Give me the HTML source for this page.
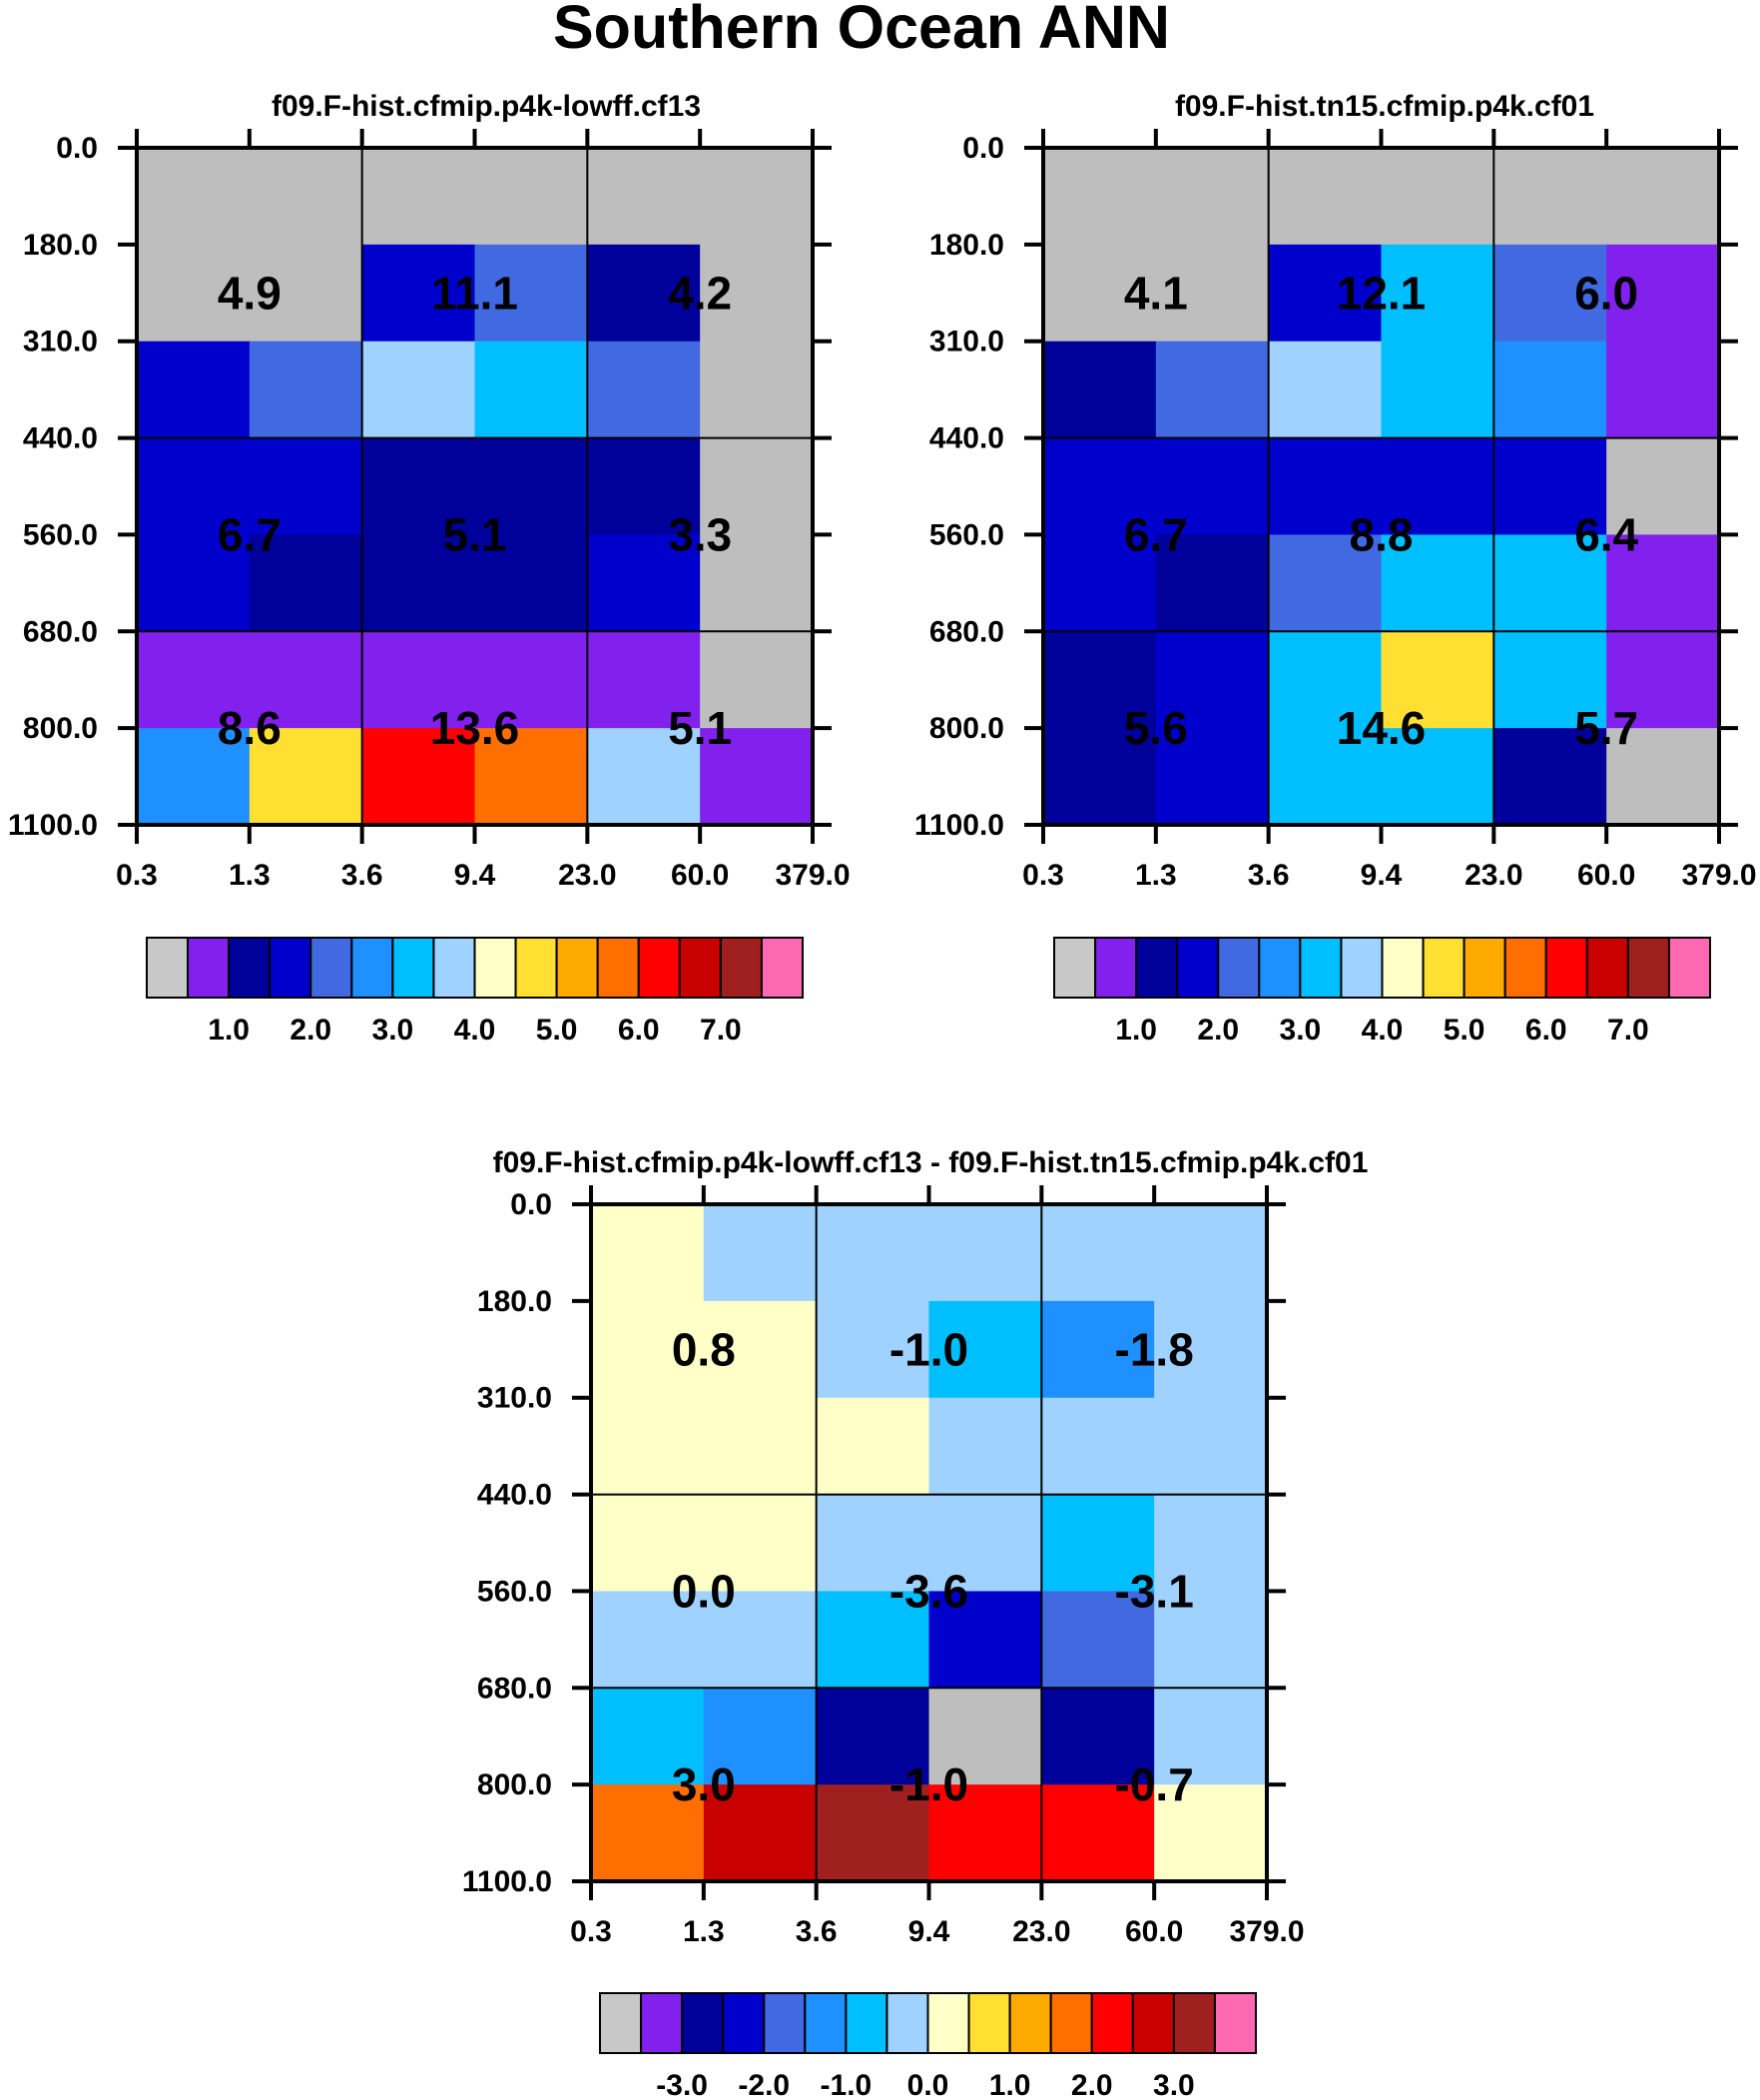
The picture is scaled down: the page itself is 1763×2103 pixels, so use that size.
<!DOCTYPE html>
<html><head><meta charset="utf-8"><style>
html,body{margin:0;padding:0;background:#fff}
svg{display:block}
text{font-family:"Liberation Sans",sans-serif;font-weight:bold;fill:#000}
</style></head><body>
<svg id="fig" width="1763" height="2103" viewBox="0 0 1763 2103" xmlns="http://www.w3.org/2000/svg">
<text x="863" y="48" text-anchor="middle" font-size="61">Southern Ocean ANN</text>
</svg>
<script>
const palette = ["#bebebe","#8220ee","#00009a","#0000cd","#4169e1","#1e90ff","#00bfff","#a0d2ff","#ffffc8","#ffe032","#ffaa00","#ff6e00","#ff0000","#c80000","#a02020","#ff69b4"];
const legendPalette = ["#c8c8c8","#8220ee","#00009a","#0000cd","#4169e1","#1e90ff","#00bfff","#a0d2ff","#ffffc8","#ffe032","#ffaa00","#ff6e00","#ff0000","#c80000","#a02020","#ff69b4"];
const yTicks = ["0.0","180.0","310.0","440.0","560.0","680.0","800.0","1100.0"];
const xTicks = ["0.3","1.3","3.6","9.4","23.0","60.0","379.0"];
const cells1 = [
 [0,0,0,0,0,0],
 [0,0,3,4,2,0],
 [3,4,7,6,4,0],
 [3,3,2,2,2,0],
 [3,2,2,2,3,0],
 [1,1,1,1,1,0],
 [5,9,12,11,7,1]];
const cells2 = [
 [0,0,0,0,0,0],
 [0,0,3,6,4,1],
 [2,4,7,6,5,1],
 [3,3,3,3,3,0],
 [3,2,4,6,6,1],
 [2,3,6,9,6,1],
 [2,3,6,6,2,0]];
const cells3 = [
 [8,7,7,7,7,7],
 [8,8,7,6,5,7],
 [8,8,8,7,7,7],
 [8,8,7,7,6,7],
 [7,7,6,3,4,7],
 [6,5,2,0,2,7],
 [11,13,14,12,12,8]];
const values1 = [["4.9","11.1","4.2"],["6.7","5.1","3.3"],["8.6","13.6","5.1"]];
const values2 = [["4.1","12.1","6.0"],["6.7","8.8","6.4"],["5.6","14.6","5.7"]];
const values3 = [["0.8","-1.0","-1.8"],["0.0","-3.6","-3.1"],["3.0","-1.0","-0.7"]];
const legendLabels1 = ["1.0","2.0","3.0","4.0","5.0","6.0","7.0"];
const legendLabels3 = ["-3.0","-2.0","-1.0","0.0","1.0","2.0","3.0"];
const blockRows = [[0,3],[3,5],[5,7]];

const NS="http://www.w3.org/2000/svg";
const svg=document.getElementById('fig');
function mk(tag,attrs,parent){const e=document.createElementNS(NS,tag);for(const k in attrs)e.setAttribute(k,attrs[k]);(parent||svg).appendChild(e);return e;}

function panel(name,x0,y0,title,titleX,cells,values,lbx,lby,labels){
  const W=677,H=678;
  const g=mk('g',{});
  
  
  const nr=cells.length,nc=cells[0].length;
  const xs=c=>x0+W*c/nc, ys=r=>y0+H*r/nr;
  const t=mk('text',{x:titleX,y:y0-32,'text-anchor':'middle','font-size':30},g);
  t.textContent=title;
  
  
  for(let r=0;r<nr;r++)for(let c=0;c<nc;c++){
    const rc=mk('rect',{x:xs(c),y:ys(r),width:xs(c+1)-xs(c)+0.5,height:ys(r+1)-ys(r)+0.5,fill:palette[cells[r][c]]},g);
    
    
  }
  [2,4].forEach(c=>mk('line',{x1:xs(c),x2:xs(c),y1:y0,y2:y0+H,stroke:'#000','stroke-width':2},g));
  [3,5].forEach(r=>mk('line',{x1:x0,x2:x0+W,y1:ys(r),y2:ys(r),stroke:'#000','stroke-width':2},g));
  mk('rect',{x:x0,y:y0,width:W,height:H,fill:'none',stroke:'#000','stroke-width':4},g);
  for(let r=0;r<=nr;r++){
    mk('line',{x1:x0-19,x2:x0,y1:ys(r),y2:ys(r),stroke:'#000','stroke-width':4},g);
    mk('line',{x1:x0+W,x2:x0+W+19,y1:ys(r),y2:ys(r),stroke:'#000','stroke-width':4},g);
    const l=mk('text',{x:x0-39,y:ys(r)+10,'text-anchor':'end','font-size':30},g);
    l.textContent=yTicks[r];
    
    
  }
  for(let c=0;c<=nc;c++){
    mk('line',{x1:xs(c),x2:xs(c),y1:y0-19,y2:y0,stroke:'#000','stroke-width':4},g);
    mk('line',{x1:xs(c),x2:xs(c),y1:y0+H,y2:y0+H+19,stroke:'#000','stroke-width':4},g);
    const l=mk('text',{x:xs(c),y:y0+H+60,'text-anchor':'middle','font-size':30},g);
    l.textContent=xTicks[c];
    
    
  }
  for(let b=0;b<3;b++)for(let k=0;k<3;k++){
    const cy=(ys(blockRows[b][0])+ys(blockRows[b][1]))/2;
    const v=mk('text',{x:xs(2*k+1),y:cy+16,'text-anchor':'middle','font-size':46},g);
    v.textContent=values[b][k];
    
    
  }
  const lg=mk('g',{});
  
  
  const bw=657/16;
  for(let i=0;i<16;i++){
    const b=mk('rect',{x:lbx+i*bw,y:lby,width:bw,height:60,fill:legendPalette[i],stroke:'#000','stroke-width':2},lg);
    
    
  }
  for(let i=0;i<labels.length;i++){
    const l=mk('text',{x:lbx+(2*i+2)*bw,y:lby+102,'text-anchor':'middle','font-size':30},lg);
    l.textContent=labels[i];
    
    
  }
}
panel('panel-cf13',137,148,'f09.F-hist.cfmip.p4k-lowff.cf13',487,cells1,values1,147,939,legendLabels1);
panel('panel-cf01',1045,148,'f09.F-hist.tn15.cfmip.p4k.cf01',1387,cells2,values2,1056,939,legendLabels1);
panel('panel-diff',592,1206,'f09.F-hist.cfmip.p4k-lowff.cf13 - f09.F-hist.tn15.cfmip.p4k.cf01',932,cells3,values3,601,1996,legendLabels3);
</script>
</body></html>
